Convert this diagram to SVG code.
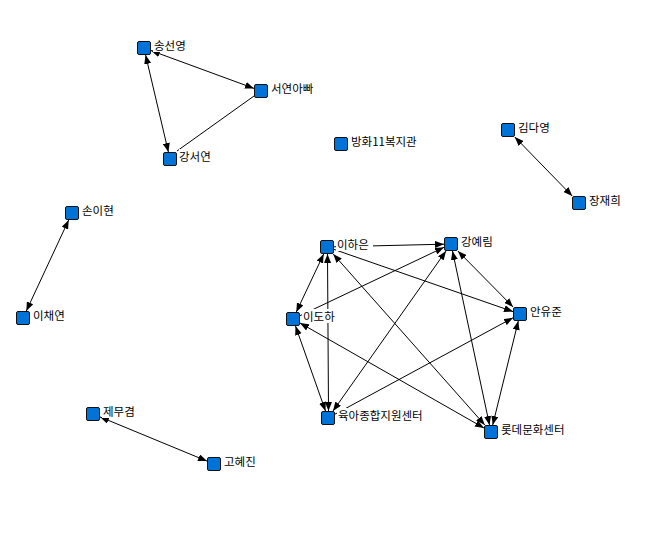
<svg xmlns="http://www.w3.org/2000/svg" width="653" height="538" viewBox="0 0 653 538">
<defs>
<marker id="ah" viewBox="0 0 9 7" refX="9" refY="3.5" markerWidth="9" markerHeight="7" markerUnits="userSpaceOnUse" orient="auto-start-reverse">
<path d="M0,0 L9,3.5 L0,7 z" fill="#000"/>
</marker>
</defs>
<style>
.n rect.sq{fill:#0073d9;stroke:#111;stroke-width:1}
.n rect.bg{fill:#fff}
.n text{font-family:"Noto Sans CJK KR","Noto Sans",sans-serif;font-size:11.5px;fill:#000}
#edges line{stroke:#000;stroke-width:1}
.b{marker-start:url(#ah);marker-end:url(#ah)}
.e{marker-end:url(#ah)}
</style>
<rect width="653" height="538" fill="#fff"/>
<g id="edges">
<line class="b" x1="151" y1="50.6" x2="254" y2="88.4"/>
<line class="b" x1="145.6" y1="55" x2="168.4" y2="152"/>
<line x1="177" y1="151" x2="254" y2="96"/>
<line class="b" x1="514.8" y1="137" x2="572.2" y2="196"/>
<line class="b" x1="68.7" y1="220" x2="26.3" y2="311"/>
<line class="b" x1="100" y1="416.9" x2="207" y2="461.1"/>
<line class="e" x1="334" y1="246.8" x2="444" y2="244.2"/>
<line class="b" x1="323.7" y1="254" x2="296.3" y2="312"/>
<line class="b" x1="327.5" y1="254" x2="328.5" y2="411"/>
<line class="e" x1="334" y1="249.4" x2="513" y2="311.6"/>
<line class="b" x1="333.2" y1="254" x2="484.8" y2="425"/>
<line class="e" x1="300" y1="315.7" x2="444" y2="247.3"/>
<line class="b" x1="295.5" y1="326" x2="325.5" y2="411"/>
<line class="b" x1="300" y1="323" x2="484" y2="428"/>
<line class="b" x1="333" y1="411" x2="446" y2="251"/>
<line class="e" x1="335" y1="414.2" x2="513" y2="317.8"/>
<line class="b" x1="457.9" y1="251" x2="513.1" y2="307"/>
<line class="b" x1="452.5" y1="251" x2="489.5" y2="425"/>
<line class="b" x1="518.3" y1="321" x2="492.7" y2="425"/>
</g>
<g id="n-songseonyeong" class="n"><rect class="bg" x="153" y="38" width="36" height="14"/><rect class="sq" x="137.5" y="41.5" width="13" height="13" rx="1.5"/><text x="154" y="50">송선영</text></g>
<g id="n-seoyeonappa" class="n"><rect class="bg" x="270" y="81" width="48" height="14"/><rect class="sq" x="254.5" y="84.5" width="13" height="13" rx="1.5"/><text x="271" y="93">서연아빠</text></g>
<g id="n-gangseoyeon" class="n"><rect class="bg" x="179" y="149" width="36" height="14"/><rect class="sq" x="163.5" y="152.5" width="13" height="13" rx="1.5"/><text x="179" y="161">강서연</text></g>
<g id="n-banghwa" class="n"><rect class="bg" x="350" y="134" width="72" height="14"/><rect class="sq" x="334.5" y="137.5" width="13" height="13" rx="1.5"/><text x="351" y="146">방화11복지관</text></g>
<g id="n-kimdayeong" class="n"><rect class="bg" x="517" y="120" width="36" height="14"/><rect class="sq" x="501.5" y="123.5" width="13" height="13" rx="1.5"/><text x="518" y="132">김다영</text></g>
<g id="n-jangjaehui" class="n"><rect class="bg" x="588" y="193" width="36" height="14"/><rect class="sq" x="572.5" y="196.5" width="13" height="13" rx="1.5"/><text x="589" y="205">장재희</text></g>
<g id="n-sonihyeon" class="n"><rect class="bg" x="81" y="203" width="36" height="14"/><rect class="sq" x="65.5" y="206.5" width="13" height="13" rx="1.5"/><text x="82" y="215">손이현</text></g>
<g id="n-ichaeyeon" class="n"><rect class="bg" x="32" y="308" width="36" height="14"/><rect class="sq" x="16.5" y="311.5" width="13" height="13" rx="1.5"/><text x="33" y="320">이채연</text></g>
<g id="n-jemugyeom" class="n"><rect class="bg" x="102" y="404" width="36" height="14"/><rect class="sq" x="86.5" y="407.5" width="13" height="13" rx="1.5"/><text x="103" y="416">제무겸</text></g>
<g id="n-gohyejin" class="n"><rect class="bg" x="223" y="454" width="36" height="14"/><rect class="sq" x="207.5" y="457.5" width="13" height="13" rx="1.5"/><text x="224" y="466">고혜진</text></g>
<g id="n-ihaeun" class="n"><rect class="bg" x="336" y="237" width="37" height="14"/><rect class="sq" x="320.5" y="240.5" width="13" height="13" rx="1.5"/><text x="337" y="249">이하은</text></g>
<g id="n-gangyerim" class="n"><rect class="bg" x="460" y="234" width="37" height="14"/><rect class="sq" x="444.5" y="237.5" width="13" height="13" rx="1.5"/><text x="461" y="246">강예림</text></g>
<g id="n-anyujun" class="n"><rect class="bg" x="529" y="304" width="37" height="14"/><rect class="sq" x="513.5" y="307.5" width="13" height="13" rx="1.5"/><text x="530" y="316">안유준</text></g>
<g id="n-idoha" class="n"><rect class="bg" x="302" y="309" width="37" height="14"/><rect class="sq" x="286.5" y="312.5" width="13" height="13" rx="1.5"/><text x="303" y="321">이도하</text></g>
<g id="n-yuga" class="n"><rect class="bg" x="337" y="408" width="94" height="14"/><rect class="sq" x="321.5" y="411.5" width="13" height="13" rx="1.5"/><text x="338" y="420">육아종합지원센터</text></g>
<g id="n-lotte" class="n"><rect class="bg" x="500" y="422" width="71" height="14"/><rect class="sq" x="484.5" y="425.5" width="13" height="13" rx="1.5"/><text x="501" y="434">롯데문화센터</text></g>
</svg>
